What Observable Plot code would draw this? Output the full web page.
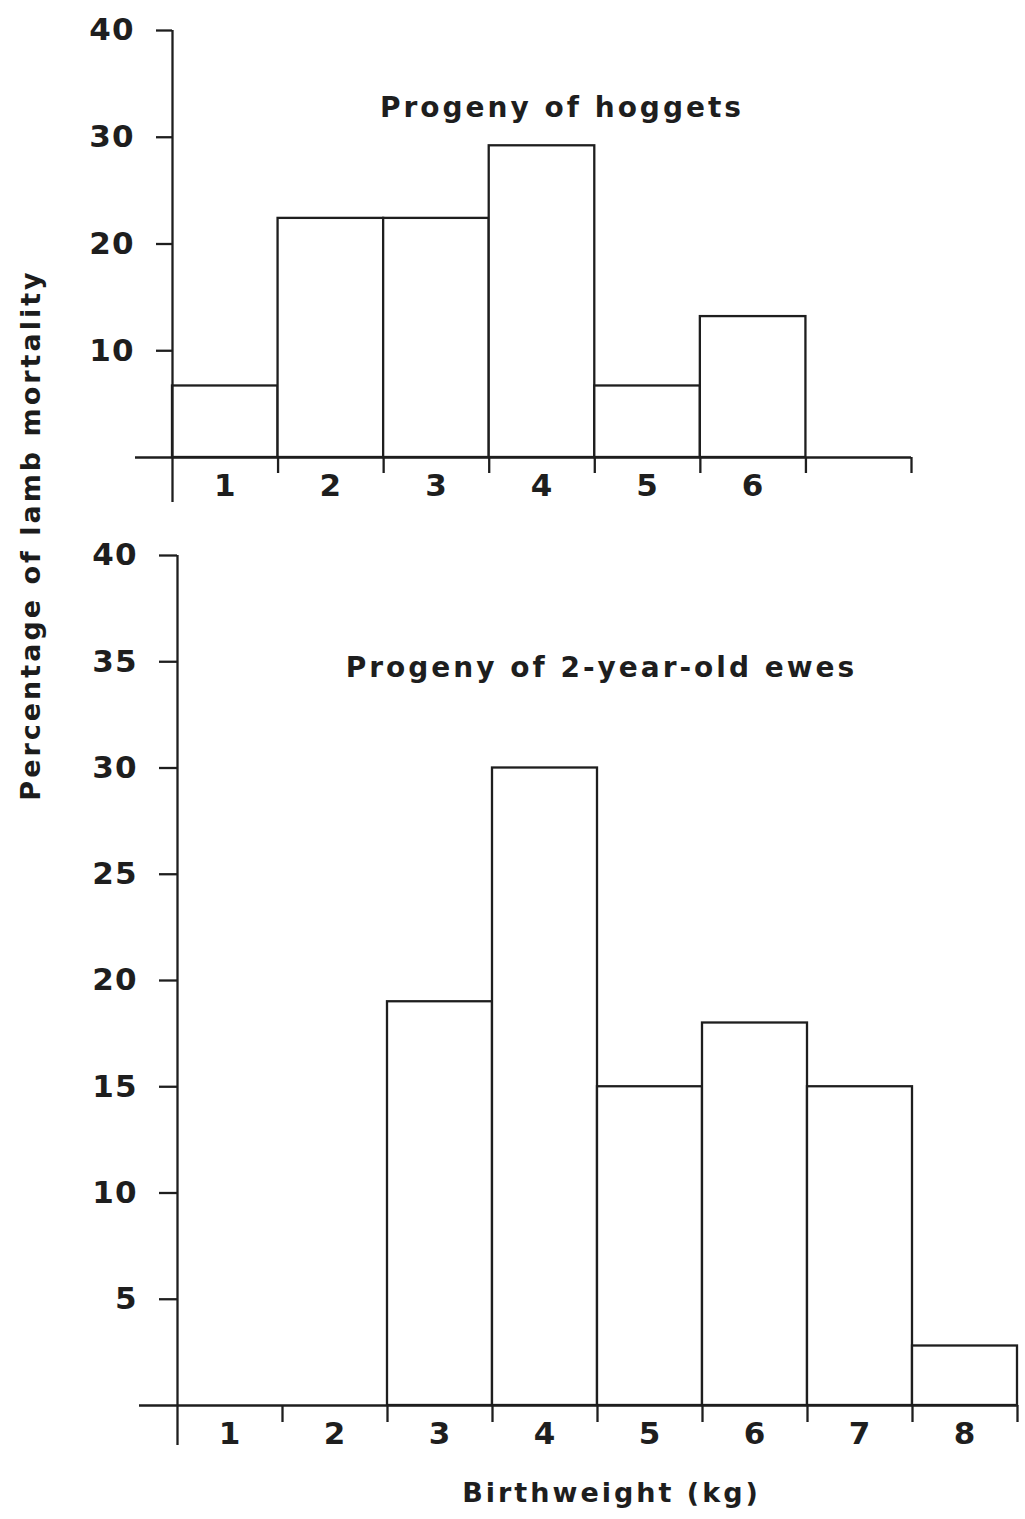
<!DOCTYPE html>
<html>
<head>
<meta charset="utf-8">
<script src="https://cdn.jsdelivr.net/npm/d3@7"></script>
<script src="https://cdn.jsdelivr.net/npm/@observablehq/plot@0.6"></script>
<style>
  html, body { margin: 0; padding: 0; background: #fff; overflow: hidden; }
  #wrap { position: relative; width: 1025px; height: 1519px; background: #fff; }
  #wrap svg { display: block; }
  #wrap g[aria-label="text"] text { letter-spacing: 3px; }
  #wrap g[aria-label="y-axis tick label"] text, #wrap g[aria-label="x-axis tick label"] text { letter-spacing: 1px; }
  #ylabel {
    position: absolute; left: 30px; top: 535px;
    transform: translate(-50%, -50%) rotate(-90deg);
    white-space: nowrap; font-family: "DejaVu Sans", sans-serif; font-weight: bold;
    font-size: 27px; letter-spacing: 3px; color: #1c1c1c;
  }
</style>
</head>
<body>
<div id="wrap"><div id="ylabel">Percentage of lamb mortality</div></div>
<script>
// ---- data ----
const topBins = [1, 2, 3, 4, 5, 6];
const topValues = [6.7, 22.4, 22.4, 29.2, 6.7, 13.2];
const topYTicks = [10, 20, 30, 40];
const topTitle = "Progeny of hoggets";

const bottomBins = [1, 2, 3, 4, 5, 6, 7, 8];
const bottomValues = [0, 0, 19, 30, 15, 18, 15, 2.8];
const bottomYTicks = [5, 10, 15, 20, 25, 30, 35, 40];
const bottomTitle = "Progeny of 2-year-old ewes";
const xLabel = "Birthweight (kg)";

const ink = "#1e1e1e";
const font = "DejaVu Sans, sans-serif";
const lw = 2.3;

function panel(o) {
  const data = o.bins.map((b, i) => ({bin: b, value: o.values[i]})).filter(d => d.value > 0);
  const nBins = o.xMax;
  const edges = d3.range(1, nBins + 1);
  const centers = o.bins.map(b => b - 0.5);
  const marks = [
    Plot.rectY(data, {x1: d => d.bin - 1, x2: d => d.bin, y: "value", fill: "white", stroke: ink, strokeWidth: lw}),
    Plot.axisY(o.yTicks, {tickSize: o.yTickSize, tickPadding: o.yTickPadding, fontSize: 31, fontWeight: "bold", fill: ink, stroke: ink, strokeWidth: lw, label: null}),
    Plot.axisX(edges, {tickSize: o.xTickSize, tickFormat: () => "", label: null, stroke: ink, strokeWidth: lw}),
    Plot.axisX(centers, {tickSize: 0, tickPadding: o.xTickPadding, tickFormat: d => String(d + 0.5), fontSize: 31, fontWeight: "bold", fill: ink, label: null}),
    Plot.ruleX([0], {y1: 40, y2: 0, insetBottom: -o.yAxisExtend, stroke: ink, strokeWidth: lw}),
    Plot.ruleY([0], {x1: 0, x2: nBins, insetLeft: -o.xAxisExtend, stroke: ink, strokeWidth: lw}),
    Plot.text([o.title], {text: d => d, frameAnchor: "top", lineAnchor: "middle", dx: o.titleDx, dy: o.titleDy, fontSize: 28, fontWeight: "bold", fill: ink})
  ];
  if (o.xLabel) {
    marks.push(Plot.text([o.xLabel], {text: d => d, frameAnchor: "bottom", lineAnchor: "middle", dx: o.xLabelDx, dy: o.xLabelDy, fontSize: 27, fontWeight: "bold", fill: ink}));
  }
  return Plot.plot({
    width: 1025,
    height: o.height,
    marginTop: o.marginTop,
    marginBottom: o.marginBottom,
    marginLeft: o.marginLeft,
    marginRight: o.marginRight,
    style: {fontFamily: font, fontWeight: "bold", color: ink, background: "white", overflow: "visible"},
    x: {domain: [0, nBins], axis: null},
    y: {domain: [0, 40], axis: null},
    marks
  });
}

const topPanel = panel({
  bins: topBins, values: topValues, yTicks: topYTicks, title: topTitle, xMax: 7,
  height: 520, marginTop: 30, marginBottom: 63, marginLeft: 172, marginRight: 114,
  yTickSize: 16, yTickPadding: 22, xTickSize: 16, xTickPadding: 16,
  yAxisExtend: 45, xAxisExtend: 37, titleDx: 20, titleDy: 78
});

const bottomPanel = panel({
  bins: bottomBins, values: bottomValues, yTicks: bottomYTicks, title: bottomTitle, xMax: 8,
  height: 999, marginTop: 35, marginBottom: 114, marginLeft: 177, marginRight: 8,
  yTickSize: 18, yTickPadding: 22, xTickSize: 17, xTickPadding: 16,
  yAxisExtend: 40, xAxisExtend: 38, titleDx: 4, titleDy: 113,
  xLabel: xLabel, xLabelDx: 14, xLabelDy: 88
});

const wrap = document.getElementById("wrap");
wrap.appendChild(topPanel);
wrap.appendChild(bottomPanel);
</script>
</body>
</html>
